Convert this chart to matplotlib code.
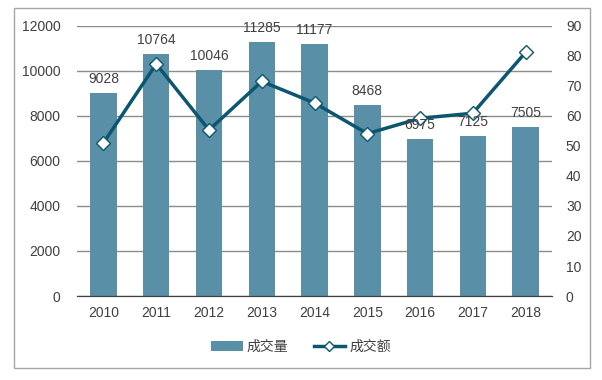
import matplotlib
matplotlib.use("Agg")
import matplotlib.pyplot as plt
from matplotlib.patches import Rectangle

plt.rcParams['font.family'] = ['Liberation Sans', 'Noto Sans CJK SC', 'DejaVu Sans']

years = ['2010', '2011', '2012', '2013', '2014', '2015', '2016', '2017', '2018']
volume = [9028, 10764, 10046, 11285, 11177, 8468, 6975, 7125, 7505]
amount = [51, 77.3, 55.3, 71.5, 64.3, 54.1, 59.2, 60.9, 81.2]

bar_color = '#5a8fa8'
line_color = '#0d5670'
text_color = '#404040'

fig = plt.figure(figsize=(6.02, 3.80), dpi=100)
ax = fig.add_axes([0.128, 0.221, 0.789, 0.711])
ax2 = ax.twinx()

x = list(range(len(years)))
bars = ax.bar(x, volume, width=0.5, color=bar_color, label='成交量', zorder=2)

ln, = ax2.plot(x, amount, color=line_color, lw=2.5, marker='D', markersize=7,
               markerfacecolor='white', markeredgecolor=line_color,
               markeredgewidth=1, label='成交额', zorder=3)

# value labels drawn on top of the line
for xi, v in zip(x, volume):
    ax2.annotate(str(v), (xi, v), xycoords=ax.transData, xytext=(0, 5),
                 textcoords='offset points', ha='center', va='bottom',
                 fontsize=10, color=text_color, zorder=5)

ax.set_xlim(-0.5, len(years) - 0.5)
ax.set_ylim(0, 12000)
ax.set_yticks(range(0, 12001, 2000))
ax2.set_ylim(0, 90)
ax2.set_yticks(range(0, 91, 10))
ax.set_xticks(x)
ax.set_xticklabels(years)

ax.yaxis.grid(True, color='#8c8c8c', lw=1)
ax.set_axisbelow(True)
for a in (ax, ax2):
    for s in ('top', 'left', 'right'):
        a.spines[s].set_visible(False)
    a.spines['bottom'].set_color('#404040')
    a.tick_params(length=0, labelsize=10, colors=text_color)
ax.tick_params(axis='x', pad=7)
ax.tick_params(axis='y', pad=12)
ax2.tick_params(axis='y', pad=10)

leg = fig.legend([bars, ln], ['成交量', '成交额'], loc='center', bbox_to_anchor=(0.5, 0.087),
                 ncol=2, frameon=False, handlelength=2.3, columnspacing=1.8,
                 handletextpad=0.3, markerscale=0.7,
                 prop={'family': ['Noto Sans CJK SC'], 'size': 10})
for t in leg.get_texts():
    t.set_color(text_color)

fig.patches.append(Rectangle((0.023, 0.032), 0.957, 0.947, transform=fig.transFigure,
                             fill=False, edgecolor='#a6a6a6', lw=1))

fig.savefig('out.png', dpi=100)
